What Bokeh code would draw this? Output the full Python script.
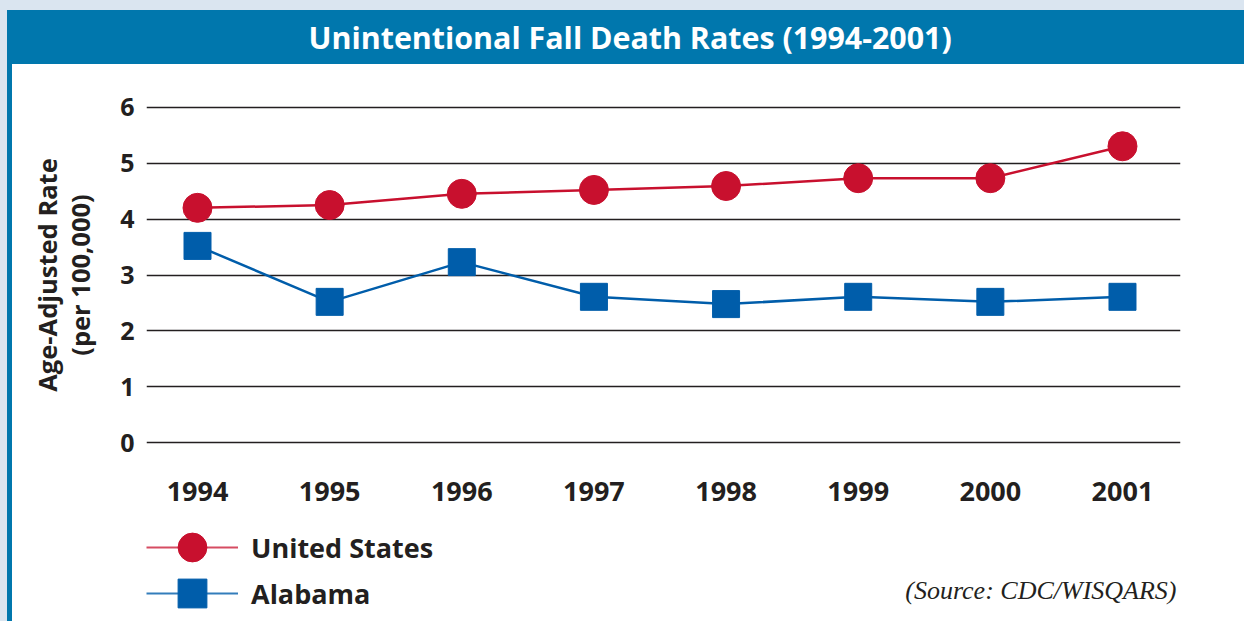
from bokeh.plotting import figure
from bokeh.models import (Div, Range1d, Legend, LegendItem, Label, LinearAxis,
                          FixedTicker)
from bokeh.layouts import column, row
from bokeh.embed import file_html
from bokeh.resources import INLINE

# ---- data ----
years = [1994, 1995, 1996, 1997, 1998, 1999, 2000, 2001]
us_rates = [4.20, 4.25, 4.45, 4.52, 4.59, 4.73, 4.73, 5.30]
al_rates = [3.52, 2.52, 3.23, 2.61, 2.48, 2.61, 2.52, 2.61]
y_ticks = [0, 1, 2, 3, 4, 5, 6]
series_names = ["United States", "Alabama"]
title_text = "Unintentional Fall Death Rates (1994-2001)"
source_text = "(Source: CDC/WISQARS)"
y_label_1 = "Age-Adjusted Rate"
y_label_2 = "(per 100,000)"

RED = "#c8102e"
BLUE = "#005daa"
BAR = "#0077ad"
PALE = "#dae5f0"
INK = "#231f20"
FONT = "Open Sans"

W = 1232
H1 = 455
H2 = 102
LEFT = 134
FW = 1034
RIGHT = W - LEFT - FW
NAN = float("nan")

# ---- title bar ----
title_div = Div(
    text=(f'<div style="box-sizing:border-box;width:1244px;height:64px;'
          f'border-top:10px solid {PALE};border-left:7px solid {PALE};'
          f'background:{BAR};color:white;text-align:center;padding-left:9px;'
          f'font-family:\'Open Sans\',sans-serif;font-weight:bold;font-size:31px;'
          f'line-height:54px;white-space:nowrap;">'
          f'<span style="display:inline-block;transform:scaleX(0.98);">{title_text}</span></div>'),
    width=1244, height=64, margin=(0, 0, 0, 0))

left_bar = Div(
    text=(f'<div style="box-sizing:border-box;width:12px;height:{H1 + H2}px;'
          f'border-left:7px solid {PALE};background:{BAR};"></div>'),
    width=12, height=H1 + H2, margin=(0, 0, 0, 0))

# ---- main chart ----
p = figure(width=W, height=H1, output_backend="svg", toolbar_location=None,
           x_range=Range1d(1993.614, 2001.439), y_range=Range1d(-0.1, 6.1),
           min_border_left=LEFT, min_border_right=RIGHT, min_border_top=37,
           min_border_bottom=H1 - 37 - 347, background_fill_color="white",
           border_fill_color="white", outline_line_color=None)
p.margin = (0, 0, 0, 0)

us_line = p.line(years, us_rates, line_color=RED, line_width=2.5)
us_pts = p.scatter(years, us_rates, marker="circle", size=29,
                   fill_color=RED, line_color=RED)
al_line = p.line(years, al_rates, line_color=BLUE, line_width=2.5)
al_pts = p.scatter(years, al_rates, marker="square", size=27,
                   fill_color=BLUE, line_color=BLUE)

p.xaxis.ticker = FixedTicker(ticks=years)
p.xaxis.axis_line_color = None
p.xaxis.major_tick_line_color = None
p.xaxis.minor_tick_line_color = None
p.xaxis.major_tick_out = 0
p.xaxis.major_label_standoff = 33
p.xaxis.major_label_text_font = FONT
p.xaxis.major_label_text_font_style = "bold"
p.xaxis.major_label_text_font_size = "27px"
p.xaxis.major_label_text_color = INK

p.yaxis.ticker = FixedTicker(ticks=y_ticks)
p.yaxis.axis_line_color = None
p.yaxis.major_tick_line_color = None
p.yaxis.minor_tick_line_color = None
p.yaxis.major_tick_out = 0
p.yaxis.major_label_standoff = 12
p.yaxis.major_label_text_font = FONT
p.yaxis.major_label_text_font_style = "bold"
p.yaxis.major_label_text_font_size = "25px"
p.yaxis.major_label_text_color = INK
p.yaxis.axis_label = y_label_2
p.yaxis.axis_label_text_font = FONT
p.yaxis.axis_label_text_font_style = "bold"
p.yaxis.axis_label_text_font_size = "25.5px"
p.yaxis.axis_label_text_color = INK
p.yaxis.axis_label_standoff = 20

outer = LinearAxis(ticker=FixedTicker(ticks=[]), axis_label=y_label_1,
                   axis_line_color=None, major_tick_line_color=None,
                   minor_tick_line_color=None, major_tick_out=0,
                   major_label_standoff=0, axis_label_standoff=-3,
                   axis_label_text_font=FONT, axis_label_text_font_style="bold",
                   axis_label_text_font_size="25.5px", axis_label_text_color=INK)
p.add_layout(outer, "left")

p.xgrid.grid_line_color = None
p.ygrid.ticker = FixedTicker(ticks=y_ticks)
p.ygrid.grid_line_color = INK
p.ygrid.grid_line_width = 1.5

# ---- legend / source strip (frame aligned with the chart's frame) ----
p2 = figure(width=W, height=H2, output_backend="svg", toolbar_location=None,
            x_range=Range1d(0, FW), y_range=Range1d(0, H2),
            x_axis_location=None, y_axis_location=None,
            min_border_left=LEFT, min_border_right=RIGHT, min_border_top=0,
            min_border_bottom=0, background_fill_color="white",
            border_fill_color="white", outline_line_color=None)
p2.margin = (0, 0, 0, 0)
p2.grid.visible = False

lg_us_line = p2.line([NAN], [NAN], line_color=RED, line_width=2, line_alpha=0.75)
lg_us_pts = p2.scatter([NAN], [NAN], marker="circle", size=29, fill_color=RED, line_color=RED)
lg_al_line = p2.line([NAN], [NAN], line_color=BLUE, line_width=2, line_alpha=0.8)
lg_al_pts = p2.scatter([NAN], [NAN], marker="square", size=27, fill_color=BLUE, line_color=BLUE)

common = dict(orientation="vertical", glyph_width=92, glyph_height=72,
              label_height=72, padding=0, margin=0, label_standoff=13,
              label_text_font=FONT, label_text_font_style="bold",
              label_text_font_size="27px", label_text_color=INK,
              background_fill_alpha=0, border_line_color=None)
legend_us = Legend(items=[LegendItem(label=series_names[0], renderers=[lg_us_line, lg_us_pts])],
                   location=(0, 38), **common)
legend_al = Legend(items=[LegendItem(label=series_names[1], renderers=[lg_al_line, lg_al_pts])],
                   location=(0, -8), **common)
p2.add_layout(legend_us, "center")
p2.add_layout(legend_al, "center")

src = Label(x=1176 - 12 - LEFT, y=31, text=source_text,
            text_align="right", text_baseline="middle",
            text_font="Liberation Serif", text_font_style="italic",
            text_font_size="26px", text_color=INK)
p2.add_layout(src)

layout = column(title_div, row(left_bar, column(p, p2, spacing=0), spacing=0), spacing=0)

open("out.html", "w").write(file_html(layout, INLINE))
